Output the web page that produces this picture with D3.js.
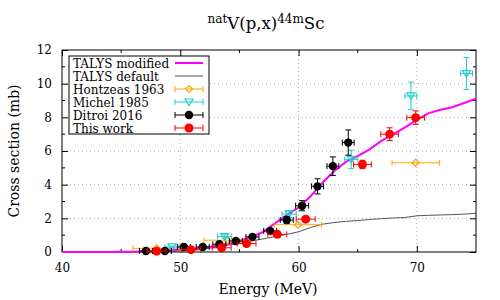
<!DOCTYPE html>
<html>
<head>
<meta charset="utf-8">
<script src="https://cdn.jsdelivr.net/npm/d3@7"></script>
<style>
  body { margin: 0; background: #fff; }
  svg { display: block; font-family: "DejaVu Serif", serif; }
</style>
</head>
<body>
<div id="chart"></div>
<script>
// model curves
const gridEnergy = [40,42,44,45,46,47,48,49,50,51,52,53,54,55,56,57,58,59,60,61,62,63,64,65,66,67,68,69,70,71,72,73,74,75];
const talysModified = [0,0,0,0.01,0.02,0.04,0.07,0.1,0.14,0.2,0.27,0.36,0.48,0.65,0.9,1.2,1.7,2.2,2.65,3.3,4.1,4.8,5.35,5.7,6.1,6.6,7.0,7.4,7.85,8.25,8.45,8.6,8.85,9.1];
const talysDefault = [0,0,0,0,0,0,0,0.02,0.05,0.1,0.18,0.28,0.4,0.52,0.65,0.78,0.92,1.05,1.2,1.45,1.65,1.75,1.82,1.87,1.93,1.98,2.02,2.05,2.15,2.18,2.2,2.22,2.25,2.3];

// experimental data
const hontzeasE = [48, 54, 59.95, 69.9];
const hontzeasV = [0.22, 0.7, 1.62, 5.3];
const hontzeasDE = [2, 2, 2, 2];
const hontzeasDV = [0, 0, 0, 0];

const michelE = [49.3, 53.75, 59.2, 64.45, 69.5, 74.2];
const michelV = [0.3, 0.92, 2.25, 5.5, 9.27, 10.6];
const michelDE = [0.6, 0.6, 0.6, 0.55, 0.5, 0.5];
const michelDV = [0.05, 0.1, 0.2, 0.55, 0.82, 0.95];

const ditroiE = [47.1, 48.7, 50.3, 51.9, 53.3, 54.7, 56.1, 57.6, 59.0, 60.3, 61.6, 62.9, 64.2];
const ditroiV = [0.06, 0.06, 0.3, 0.3, 0.46, 0.65, 0.9, 1.25, 1.9, 2.75, 3.9, 5.1, 6.5];
const ditroiDE = [0.55, 0.55, 0.55, 0.55, 0.55, 0.55, 0.55, 0.55, 0.55, 0.55, 0.5, 0.5, 0.5];
const ditroiDV = [0.05, 0.05, 0.05, 0.05, 0.07, 0.08, 0.1, 0.12, 0.2, 0.3, 0.45, 0.55, 0.75];

const thisWorkE = [48.0, 50.9, 53.5, 55.6, 58.2, 60.6, 65.4, 67.7, 69.9];
const thisWorkV = [0.05, 0.14, 0.25, 0.5, 1.05, 1.95, 5.2, 7.0, 7.98];
const thisWorkDE = [0.8, 0.8, 0.8, 0.8, 0.8, 0.8, 0.75, 0.75, 0.75];
const thisWorkDV = [0.02, 0.03, 0.05, 0.08, 0.1, 0.12, 0.25, 0.38, 0.4];

const xTicks = [40, 50, 60, 70];
const yTicks = [0, 2, 4, 6, 8, 10, 12];

const width = 500, height = 300;
const margin = {top: 50, right: 24, bottom: 48, left: 62};

const svg = d3.select('#chart').append('svg')
  .attr('width', width)
  .attr('height', height);

const x = d3.scaleLinear().domain([40, 75]).range([margin.left, width - margin.right]);
const y = d3.scaleLinear().domain([0, 12]).range([height - margin.bottom, margin.top]);

// grid
svg.append('g')
  .selectAll('line')
  .data(xTicks.filter(d => d > 40))
  .join('line')
  .attr('x1', d => x(d)).attr('x2', d => x(d))
  .attr('y1', y(0)).attr('y2', y(12))
  .attr('stroke', '#aaa').attr('stroke-dasharray', '1,3');
svg.append('g')
  .selectAll('line')
  .data(yTicks.filter(d => d > 0 && d < 12))
  .join('line')
  .attr('x1', x(40)).attr('x2', x(75))
  .attr('y1', d => y(d)).attr('y2', d => y(d))
  .attr('stroke', '#aaa').attr('stroke-dasharray', '1,3');

// axes, ticks inward and mirrored
const xMinor = d3.range(45, 75, 10);
const yMinor = d3.range(1, 12, 2);

svg.append('g')
  .attr('transform', `translate(0,${y(0)})`)
  .call(d3.axisBottom(x).tickValues(xTicks).tickSize(-6).tickPadding(11).tickSizeOuter(0))
  .call(g => g.select('.domain').remove())
  .call(g => g.selectAll('text').attr('font-size', 12).attr('font-family', 'DejaVu Serif'));
svg.append('g')
  .attr('transform', `translate(0,${y(12)})`)
  .call(d3.axisTop(x).tickValues(xTicks).tickSize(-6).tickFormat('').tickSizeOuter(0))
  .call(g => g.select('.domain').remove());
svg.append('g')
  .attr('transform', `translate(${x(40)},0)`)
  .call(d3.axisLeft(y).tickValues(yTicks).tickSize(-6).tickPadding(10).tickSizeOuter(0))
  .call(g => g.select('.domain').remove())
  .call(g => g.selectAll('text').attr('font-size', 12).attr('font-family', 'DejaVu Serif'));
svg.append('g')
  .attr('transform', `translate(${x(75)},0)`)
  .call(d3.axisRight(y).tickValues(yTicks).tickSize(-6).tickFormat('').tickSizeOuter(0))
  .call(g => g.select('.domain').remove());

// minor ticks
const minor = svg.append('g').attr('stroke', '#000');
xMinor.forEach(v => {
  minor.append('line').attr('x1', x(v)).attr('x2', x(v)).attr('y1', y(0)).attr('y2', y(0) - 3);
  minor.append('line').attr('x1', x(v)).attr('x2', x(v)).attr('y1', y(12)).attr('y2', y(12) + 3);
});
yMinor.forEach(v => {
  minor.append('line').attr('x1', x(40)).attr('x2', x(40) + 3).attr('y1', y(v)).attr('y2', y(v));
  minor.append('line').attr('x1', x(75)).attr('x2', x(75) - 3).attr('y1', y(v)).attr('y2', y(v));
});

// frame
svg.append('rect')
  .attr('x', x(40)).attr('y', y(12))
  .attr('width', x(75) - x(40)).attr('height', y(0) - y(12))
  .attr('fill', 'none').attr('stroke', '#000');

// legend box drawn before data
const legend = svg.append('g').attr('transform', 'translate(69,56)');
legend.append('rect')
  .attr('width', 140).attr('height', 78)
  .attr('fill', '#fff').attr('stroke', '#000');

// curves
const line = d3.line().x(d => x(d[0])).y(d => y(d[1]));
svg.append('path')
  .datum(gridEnergy.map((e, i) => [e, talysDefault[i]]))
  .attr('d', line).attr('fill', 'none').attr('stroke', '#555').attr('stroke-width', 1);
svg.append('path')
  .datum(gridEnergy.map((e, i) => [e, talysModified[i]]))
  .attr('d', line).attr('fill', 'none').attr('stroke', '#ff00ff').attr('stroke-width', 2);

function errorBars(g, px, py, c) {
  const xl = x(px.e - px.de), xr = x(px.e + px.de), yc = y(py.v);
  const yt = y(py.v + py.dv), yb = y(py.v - py.dv), xc = x(px.e);
  const cap = 3;
  g.append('line').attr('x1', xl).attr('x2', xr).attr('y1', yc).attr('y2', yc).attr('stroke', c);
  g.append('line').attr('x1', xl).attr('x2', xl).attr('y1', yc - cap).attr('y2', yc + cap).attr('stroke', c);
  g.append('line').attr('x1', xr).attr('x2', xr).attr('y1', yc - cap).attr('y2', yc + cap).attr('stroke', c);
  if (py.dv > 0) {
    g.append('line').attr('x1', xc).attr('x2', xc).attr('y1', yt).attr('y2', yb).attr('stroke', c);
    g.append('line').attr('x1', xc - cap).attr('x2', xc + cap).attr('y1', yt).attr('y2', yt).attr('stroke', c);
    g.append('line').attr('x1', xc - cap).attr('x2', xc + cap).attr('y1', yb).attr('y2', yb).attr('stroke', c);
  }
}

function drawMarker(g, cx, cy, kind, c) {
  if (kind === 'diamond') {
    g.append('path').attr('d', `M${cx},${cy - 3.5}L${cx + 3.5},${cy}L${cx},${cy + 3.5}L${cx - 3.5},${cy}Z`)
      .attr('fill', 'none').attr('stroke', c).attr('stroke-width', 1.2);
  } else if (kind === 'tri') {
    g.append('path').attr('d', `M${cx - 4},${cy - 3}L${cx + 4},${cy - 3}L${cx},${cy + 3.5}Z`)
      .attr('fill', 'none').attr('stroke', c).attr('stroke-width', 1.2);
  } else {
    g.append('circle').attr('cx', cx).attr('cy', cy).attr('r', kind === 'big' ? 4.5 : 4.2).attr('fill', c);
  }
}

const series = [
  {name: 'Hontzeas 1963', e: hontzeasE, v: hontzeasV, de: hontzeasDE, dv: hontzeasDV, color: '#ffa500', kind: 'diamond'},
  {name: 'Michel 1985', e: michelE, v: michelV, de: michelDE, dv: michelDV, color: '#22cccc', kind: 'tri'},
  {name: 'Ditroi 2016', e: ditroiE, v: ditroiV, de: ditroiDE, dv: ditroiDV, color: '#000', kind: 'circle'},
  {name: 'This work', e: thisWorkE, v: thisWorkV, de: thisWorkDE, dv: thisWorkDV, color: '#ff0000', kind: 'big'}
];

series.forEach(s => {
  const g = svg.append('g');
  s.e.forEach((e, i) => {
    errorBars(g, {e: e, de: s.de[i]}, {v: s.v[i], dv: s.dv[i]}, s.color);
    drawMarker(g, x(e), y(s.v[i]), s.kind, s.color);
  });
});

// legend entries
const rowH = 13;
const entries = [
  {name: 'TALYS modified', color: '#ff00ff', w: 2},
  {name: 'TALYS default', color: '#555', w: 1}
].concat(series);
entries.forEach((d, i) => {
  const yy = 7 + i * rowH;
  const g = legend.append('g');
  g.append('text')
    .attr('x', 4).attr('y', yy + 4.5)
    .attr('font-size', 12)
    .text(d.name);
  if (d.w) {
    g.append('line').attr('x1', 106).attr('x2', 134).attr('y1', yy).attr('y2', yy)
      .attr('stroke', d.color).attr('stroke-width', d.w);
  } else {
    const c = d.color;
    g.append('line').attr('x1', 106).attr('x2', 134).attr('y1', yy).attr('y2', yy).attr('stroke', c);
    g.append('line').attr('x1', 106).attr('x2', 106).attr('y1', yy - 3).attr('y2', yy + 3).attr('stroke', c);
    g.append('line').attr('x1', 134).attr('x2', 134).attr('y1', yy - 3).attr('y2', yy + 3).attr('stroke', c);
    drawMarker(g, 120, yy, d.kind, c);
  }
});

// title
const title = svg.append('text')
  .attr('x', 266).attr('y', 29)
  .attr('text-anchor', 'middle')
  .attr('font-size', 16.5);
title.append('tspan').attr('font-size', 12).attr('dy', -6).text('nat');
title.append('tspan').attr('dy', 6).text('V(p,x)');
title.append('tspan').attr('font-size', 12).attr('dy', -6).text('44m');
title.append('tspan').attr('dy', 6).text('Sc');

// axis labels
svg.append('text')
  .attr('x', 268).attr('y', 294)
  .attr('text-anchor', 'middle')
  .attr('font-size', 14)
  .text('Energy (MeV)');
svg.append('text')
  .attr('transform', `translate(19,${(y(0) + y(12)) / 2}) rotate(-90)`)
  .attr('text-anchor', 'middle')
  .attr('font-size', 14)
  .text('Cross section (mb)');
</script>
</body>
</html>
